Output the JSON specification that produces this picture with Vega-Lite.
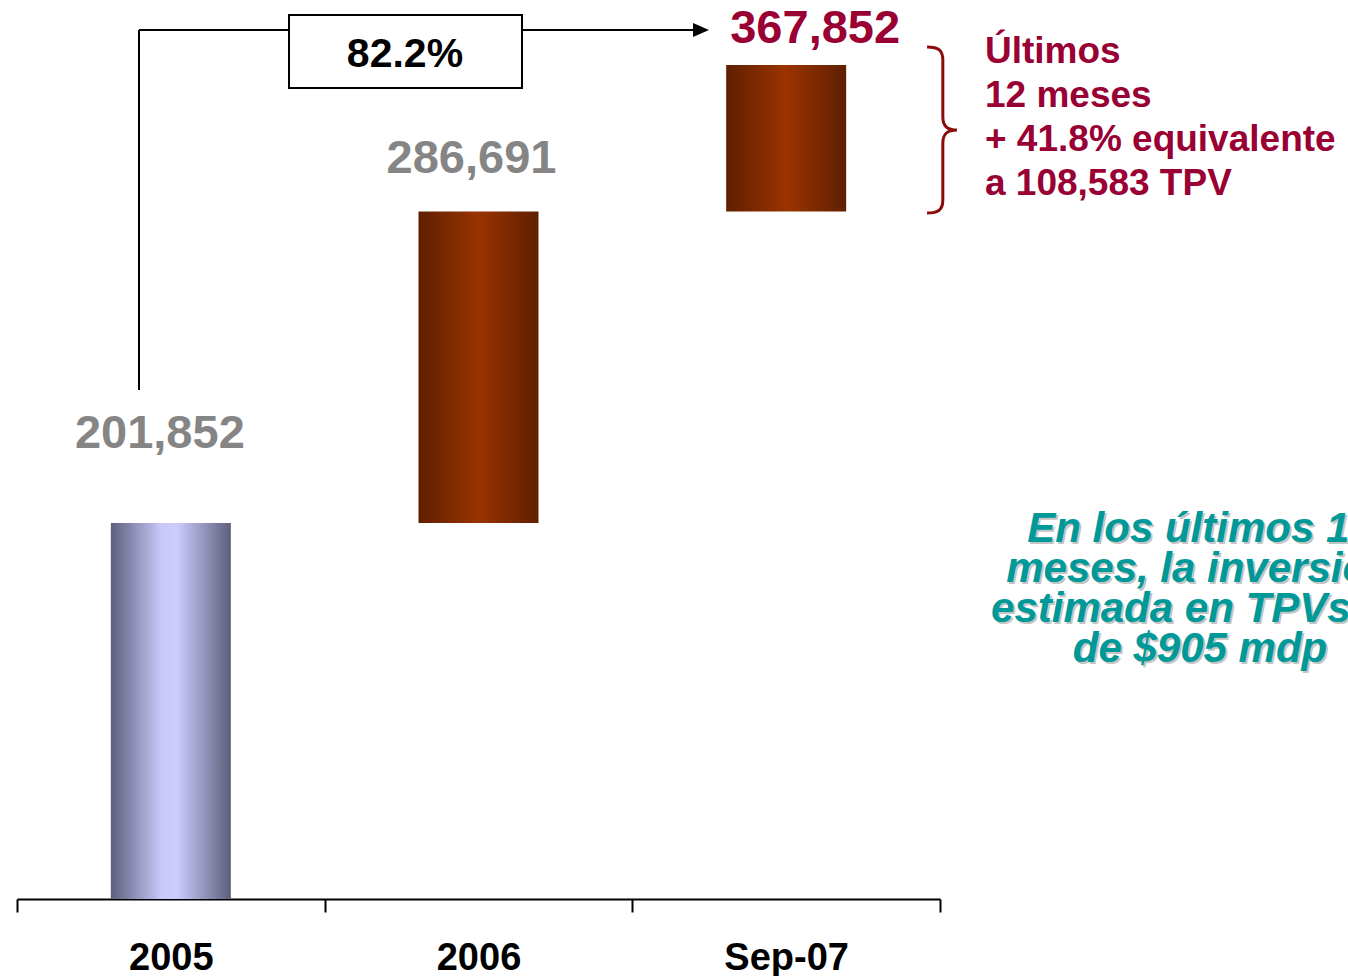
{
  "$schema": "https://vega.github.io/schema/vega-lite/v6.json",
  "autosize": {"type": "none"},
  "padding": {"left": 17, "top": 0, "right": 408, "bottom": 77},
  "width": 923,
  "height": 899,
  "background": "white",
  "config": {"view": {"stroke": null}, "font": "Liberation Sans"},
  "datasets": {
    "bars": [
      {"cat": "2005", "start": 0, "end": 201852, "label": "201,852"},
      {"cat": "2006", "start": 201852, "end": 369050, "label": "286,691"},
      {"cat": "Sep-07", "start": 369050, "end": 447700, "label": "367,852"}
    ]
  },
  "data": {"name": "bars"},
  "resolve": {"scale": {"x": "independent"}},
  "layer": [
    {
      "encoding": {
        "x": {
          "field": "cat", "type": "nominal", "sort": null,
          "scale": {"paddingInner": 0, "paddingOuter": 0},
          "axis": {
            "title": null, "tickBand": "extent", "domainColor": "black", "domainWidth": 2,
            "tickColor": "black", "tickWidth": 2, "tickSize": 13, "labelAngle": 0,
            "labelFont": "Liberation Sans", "labelFontWeight": "bold", "labelFontSize": 38,
            "labelColor": "black", "labelPadding": 27
          }
        },
        "y": {"field": "start", "type": "quantitative", "scale": {"domain": [0, 482600], "nice": false, "zero": true}, "axis": null},
        "y2": {"field": "end"}
      },
      "layer": [
        {
          "transform": [{"filter": "datum.cat === '2005'"}],
          "mark": {"type": "bar", "width": {"band": 0.39},
            "color": {"gradient": "linear", "x1": 0, "y1": 0, "x2": 1, "y2": 0,
              "stops": [{"offset": 0, "color": "#5e5e7c"}, {"offset": 0.42, "color": "#c8c8fa"}, {"offset": 0.55, "color": "#ccccff"}, {"offset": 1, "color": "#5e5e7c"}]}}
        },
        {
          "transform": [{"filter": "datum.cat !== '2005'"}],
          "mark": {"type": "bar", "width": {"band": 0.39},
            "color": {"gradient": "linear", "x1": 0, "y1": 0, "x2": 1, "y2": 0,
              "stops": [{"offset": 0, "color": "#5f1f00"}, {"offset": 0.5, "color": "#9a3300"}, {"offset": 1, "color": "#5f1f00"}]}}
        },
        {
          "transform": [{"filter": "datum.cat === '2005'"}],
          "mark": {"type": "text", "font": "Liberation Sans", "fontWeight": "bold", "fontSize": 47, "color": "#858585", "baseline": "alphabetic", "dx": -11, "dy": -75},
          "encoding": {"y": {"field": "end", "type": "quantitative"}, "y2": null, "text": {"field": "label"}}
        },
        {
          "transform": [{"filter": "datum.cat === '2006'"}],
          "mark": {"type": "text", "font": "Liberation Sans", "fontWeight": "bold", "fontSize": 47, "color": "#858585", "baseline": "alphabetic", "dx": -7, "dy": -39},
          "encoding": {"y": {"field": "end", "type": "quantitative"}, "y2": null, "text": {"field": "label"}}
        },
        {
          "transform": [{"filter": "datum.cat === 'Sep-07'"}],
          "mark": {"type": "text", "font": "Liberation Sans", "fontWeight": "bold", "fontSize": 47, "color": "#990033", "baseline": "alphabetic", "dx": 29, "dy": -22},
          "encoding": {"y": {"field": "end", "type": "quantitative"}, "y2": null, "text": {"field": "label"}}
        }
      ]
    },
    {
      "data": {"values": [{}]},
      "layer": [
        {
          "mark": {"type": "rule", "color": "black", "strokeWidth": 2},
          "encoding": {
            "x": {"datum": 0.3965, "type": "quantitative", "scale": {"domain": [0, 3], "nice": false, "zero": false}, "axis": null},
            "y": {"datum": 273231, "type": "quantitative"},
            "y2": {"datum": 466479}
          }
        },
        {
          "mark": {"type": "rule", "color": "black", "strokeWidth": 2},
          "encoding": {
            "x": {"datum": 0.3965, "type": "quantitative"},
            "x2": {"datum": 2.2036},
            "y": {"datum": 466479, "type": "quantitative"}
          }
        },
        {
          "mark": {"type": "point", "shape": "M-1,-0.875L1,0L-1,0.875Z", "size": 256, "filled": true, "color": "black", "opacity": 1},
          "encoding": {
            "x": {"datum": 2.2232, "type": "quantitative"},
            "y": {"datum": 466479, "type": "quantitative"}
          }
        },
        {
          "mark": {"type": "rect", "fill": "white", "stroke": "black", "strokeWidth": 2},
          "encoding": {
            "x": {"datum": 0.8841, "type": "quantitative"},
            "x2": {"datum": 1.6414},
            "y": {"datum": 474531, "type": "quantitative"},
            "y2": {"datum": 435345}
          }
        },
        {
          "mark": {"type": "text", "font": "Liberation Sans", "fontWeight": "bold", "fontSize": 41, "color": "black", "align": "center", "baseline": "alphabetic"},
          "encoding": {
            "x": {"datum": 1.2611, "type": "quantitative"},
            "y": {"datum": 446618, "type": "quantitative"},
            "text": {"value": "82.2%"}
          }
        },
        {
          "mark": {"type": "point", "shape": "M-0.18,-1C-0.04,-1,0.01,-0.96,0.01,-0.84L0.01,-0.16C0.01,-0.05,0.06,0,0.18,0C0.06,0,0.01,0.05,0.01,0.16L0.01,0.84C0.01,0.96,-0.04,1,-0.18,1", "size": 27556, "filled": false, "stroke": "#8b0a0a", "strokeWidth": 3, "opacity": 1},
          "encoding": {
            "x": {"datum": 3.0065, "type": "quantitative"},
            "y": {"datum": 412799, "type": "quantitative"}
          }
        },
        {
          "mark": {"type": "text", "font": "Liberation Sans", "fontWeight": "bold", "fontSize": 37, "color": "#990033", "align": "left", "baseline": "alphabetic", "lineHeight": 44},
          "encoding": {
            "x": {"datum": 3.1462, "type": "quantitative"},
            "y": {"datum": 448765, "type": "quantitative"},
            "text": {"value": ["Últimos", "12 meses", "+ 41.8% equivalente", "a 108,583 TPV"]}
          }
        },
        {
          "mark": {"type": "text", "font": "Liberation Sans", "fontWeight": "bold", "fontStyle": "italic", "fontSize": 42, "color": "#c4c4c4", "align": "center", "baseline": "alphabetic", "lineHeight": 40, "dx": 2, "dy": 2},
          "encoding": {
            "x": {"datum": 3.845, "type": "quantitative"},
            "y": {"datum": 191638, "type": "quantitative"},
            "text": {"value": ["En los últimos 12", "meses, la inversión", "estimada en TPVs es", "de $905 mdp"]}
          }
        },
        {
          "mark": {"type": "text", "font": "Liberation Sans", "fontWeight": "bold", "fontStyle": "italic", "fontSize": 42, "color": "#009999", "align": "center", "baseline": "alphabetic", "lineHeight": 40},
          "encoding": {
            "x": {"datum": 3.845, "type": "quantitative"},
            "y": {"datum": 191638, "type": "quantitative"},
            "text": {"value": ["En los últimos 12", "meses, la inversión", "estimada en TPVs es", "de $905 mdp"]}
          }
        }
      ]
    }
  ]
}
